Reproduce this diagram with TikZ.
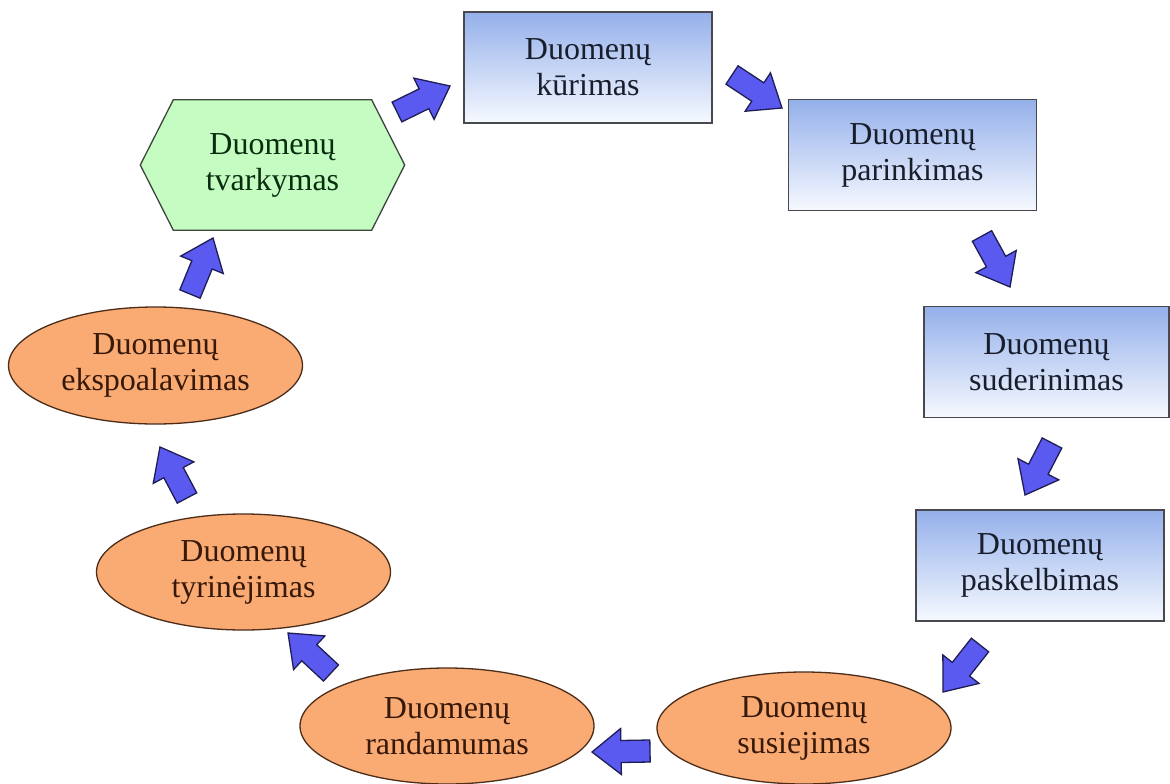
\documentclass[tikz,border=0pt]{standalone}
\usepackage{fontspec}
\setmainfont{Liberation Serif}
\usetikzlibrary{shapes.geometric,calc}
\definecolor{boxtop}{RGB}{148,176,234}
\definecolor{boxbot}{RGB}{246,249,255}
\definecolor{boxline}{RGB}{72,72,78}
\definecolor{boxtext}{RGB}{25,30,45}
\definecolor{hexfill}{RGB}{196,252,194}
\definecolor{hexline}{RGB}{60,70,60}
\definecolor{hextext}{RGB}{10,45,15}
\definecolor{ellfill}{RGB}{250,170,115}
\definecolor{ellline}{RGB}{75,45,25}
\definecolor{elltext}{RGB}{55,25,10}
\definecolor{arrfill}{RGB}{90,90,240}
\definecolor{arrline}{RGB}{30,30,85}
\tikzset{
  lbl/.style={font=\fontsize{32}{36}\selectfont, align=center, inner sep=0pt},
  stagebox/.style={lbl, draw=boxline, line width=1.3pt, top color=boxtop, bottom color=boxbot,
    minimum width=248pt, minimum height=111pt, text=boxtext},
  stageell/.style={lbl, ellipse, draw=ellline, line width=1.3pt, fill=ellfill,
    minimum width=294pt, minimum height=116pt, text=elltext},
  hexnode/.style={lbl, minimum width=264pt, minimum height=130pt, text=hextext},
  hexline/.style={draw=hexline, line width=1.3pt, fill=hexfill, line join=miter},
  barrow/.style={draw=arrline, fill=arrfill, line width=1.3pt, line join=miter}
}
\newcommand\blockarr[2]{%
  \coordinate (arrH) at ($(#2)!29pt!(#1)$);
  \draw[barrow] ($(#1)!11pt!90:(#2)$) -- ($(arrH)!11pt!90:(#2)$) -- ($(arrH)!23pt!90:(#2)$)
    -- (#2) -- ($(arrH)!23pt!-90:(#2)$) -- ($(arrH)!11pt!-90:(#2)$) -- ($(#1)!11pt!-90:(#2)$) -- cycle;
}
\begin{document}
\begin{tikzpicture}[x=1pt,y=-1pt]
\useasboundingbox[fill=white] (0,0) rectangle (1170,784);
% hexagon
\node[hexnode] (hex) at (272.5,165) {};
\draw[hexline] (hex.west) -- ($(hex.north west)+(33,0)$) -- ($(hex.north east)+(-33,0)$)
  -- (hex.east) -- ($(hex.south east)+(-33,0)$) -- ($(hex.south west)+(33,0)$) -- cycle;
\node[lbl, text=hextext] at (hex.center) {Duomenų\\tvarkymas};
% boxes
\node[stagebox] (b1) at (588,67.5) {Duomenų\\kūrimas};
\node[stagebox] (b2) at (912.5,155) {Duomenų\\parinkimas};
\node[stagebox, minimum width=245pt] (b3) at (1046.5,362) {Duomenų\\suderinimas};
\node[stagebox] (b4) at (1040,565.5) {Duomenų\\paskelbimas};
% ellipses
\node[stageell, minimum height=112pt] (e1) at (804,728) {Duomenų\\susiejimas};
\node[stageell] (e2) at (447,726) {Duomenų\\randamumas};
\node[stageell] (e3) at (243.5,572) {Duomenų\\tyrinėjimas};
\node[stageell, minimum height=117pt] (e4) at (155.5,365.5) {Duomenų\\ekspoalavimas};
% arrow ends
\coordinate (a1s) at (397,112); \coordinate (a1e) at (450,86);
\coordinate (a2s) at (732,75);  \coordinate (a2e) at (782,108);
\coordinate (a3s) at (982,236); \coordinate (a3e) at (1010,287);
\coordinate (a4s) at (1052,443); \coordinate (a4e) at (1025,495);
\coordinate (a5s) at (980,645); \coordinate (a5e) at (943,692);
\coordinate (a6s) at (650,751); \coordinate (a6e) at (592,752);
\coordinate (a7s) at (331,673); \coordinate (a7e) at (288,633);
\coordinate (a8s) at (187,498); \coordinate (a8e) at (160,447);
\coordinate (a9s) at (190,294); \coordinate (a9e) at (213,238);
\blockarr{a1s}{a1e}
\blockarr{a2s}{a2e}
\blockarr{a3s}{a3e}
\blockarr{a4s}{a4e}
\blockarr{a5s}{a5e}
\blockarr{a6s}{a6e}
\blockarr{a7s}{a7e}
\blockarr{a8s}{a8e}
\blockarr{a9s}{a9e}
\end{tikzpicture}
\end{document}
